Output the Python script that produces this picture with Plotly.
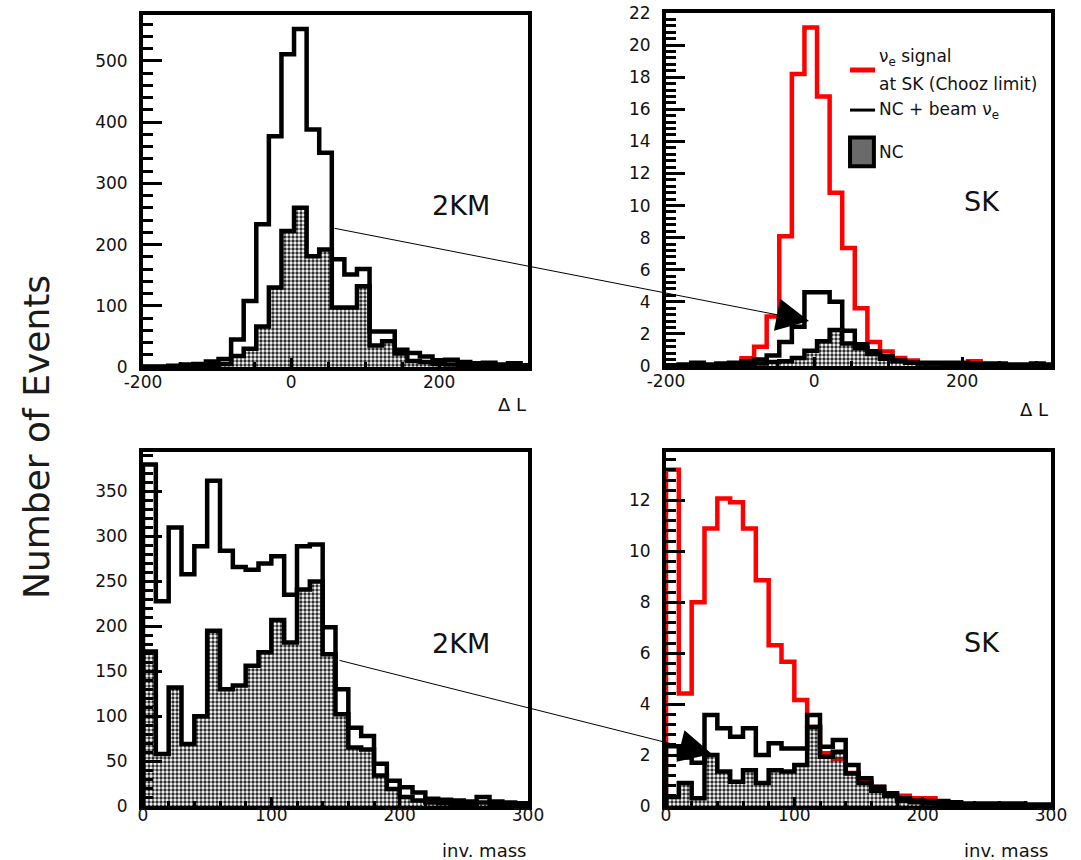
import plotly.graph_objects as go

# ---------------- data ----------------
# Delta-L histograms: 17-unit bins starting at -200
DL_START = -200
DL_WIDTH = 17
dl_2km_total = [1, 1, 2, 4, 5, 9, 13, 45, 108, 233, 377, 511, 552, 388, 350, 176,
                151, 160, 58, 58, 28, 23, 17, 11, 12, 8, 6, 7, 4, 6, 3]
dl_2km_nc = [0, 0, 1, 1, 2, 3, 5, 18, 30, 66, 130, 222, 260, 181, 192, 97,
             97, 132, 35, 42, 22, 10, 8, 5, 4, 3, 2, 3, 1, 2, 1]
dl_sk_signal = [0, 0, 0, 0, 0.05, 0.15, 0.48, 1.2, 3.08, 8.08, 18.2, 21.1, 16.8, 10.8,
                7.35, 3.6, 1.5, 0.9, 0.5, 0.35, 0.15, 0.1, 0.1, 0.05, 0.3, 0.05, 0, 0, 0, 0, 0]
dl_sk_total = [0.05, 0.1, 0.2, 0.1, 0.15, 0.2, 0.3, 0.4, 0.65, 1.5, 2.45, 4.6, 4.6, 4.0,
               2.2, 1.35, 0.92, 0.6, 0.35, 0.2, 0.2, 0.2, 0.2, 0.2, 0.15, 0.15, 0.15, 0.1, 0.1, 0.15, 0.1]
dl_sk_nc = [0, 0, 0.05, 0, 0, 0.05, 0.1, 0.15, 0.25, 0.3, 0.5, 0.95, 1.55, 2.25,
            1.4, 1.1, 0.75, 0.45, 0.3, 0.2, 0.15, 0.15, 0.1, 0.1, 0.1, 0.1, 0.05, 0.05, 0.05, 0.1, 0.05]

# invariant-mass histograms: 10-unit bins from 0 to 300
M_START = 0
M_WIDTH = 10
m_2km_total = [380, 228, 310, 258, 289, 362, 284, 266, 263, 270, 278, 235, 289, 291, 199,
               130, 87, 78, 47, 28, 21, 15, 8, 7, 6, 5, 10, 5, 4, 3]
m_2km_nc = [172, 58, 132, 69, 100, 195, 130, 134, 156, 171, 207, 182, 241, 250, 169,
            102, 65, 63, 34, 19, 10, 6, 4, 3, 2, 2, 4, 2, 1, 1]
m_sk_signal = [13.2, 4.42, 8.0, 10.9, 12.07, 11.93, 10.9, 8.86, 6.31, 5.66, 4.16, 3.1, 2.07,
               1.85, 1.3, 1.0, 0.75, 0.5, 0.4, 0.3, 0.3, 0.15, 0.1, 0.05, 0.05, 0, 0, 0, 0, 0]
m_sk_total = [2.35, 1.9, 1.7, 3.57, 3.05, 2.72, 3.05, 2.0, 2.46, 2.26, 2.26, 3.57, 2.33, 2.59,
              1.61, 1.09, 0.76, 0.5, 0.3, 0.22, 0.2, 0.2, 0.15, 0.1, 0.1, 0.1, 0.1, 0.1, 0.05, 0.05]
m_sk_nc = [0.35, 0.9, 0.3, 2.0, 1.35, 0.95, 1.4, 0.9, 1.4, 1.35, 1.61, 3.1, 1.93, 2.13,
           1.28, 0.9, 0.6, 0.4, 0.2, 0.15, 0.1, 0.05, 0.05, 0.05, 0.05, 0.05, 0.05, 0.05, 0.05, 0.05]

FONT = "DejaVu Sans"
W, H = 1081, 860
LW = 4.5


def contour(start, width, vals):
    """Histogram outline: step path closed down to zero at both ends."""
    n = len(vals)
    edges = [start + width * i for i in range(n + 1)]
    xs = [edges[0]] + edges[:n] + [edges[n]]
    ys = [0] + list(vals) + [0]
    return xs, ys


fig = go.Figure()

NC_PATTERN = dict(shape=".", fgcolor="#2e2e2e", fgopacity=1, bgcolor="rgba(255,255,255,0)",
                  size=4, solidity=0.55, fillmode="overlay")


def add_panel(xa, ya, start, width, total, nc, signal=None):
    if signal is not None:
        x, y = contour(start, width, signal)
        fig.add_trace(go.Scatter(x=x, y=y, mode="lines", line=dict(color="#ff0000", width=LW, shape="hv"),
                                 xaxis=xa, yaxis=ya, showlegend=False, hoverinfo="skip"))
    x, y = contour(start, width, total)
    fig.add_trace(go.Scatter(x=x, y=y, mode="lines", line=dict(color="black", width=LW, shape="hv"),
                             xaxis=xa, yaxis=ya, showlegend=False, hoverinfo="skip"))
    x, y = contour(start, width, nc)
    fig.add_trace(go.Scatter(x=x, y=y, mode="lines", line=dict(color="black", width=LW, shape="hv"),
                             fill="tozeroy", fillcolor="rgba(0,0,0,0)", fillpattern=NC_PATTERN,
                             xaxis=xa, yaxis=ya, showlegend=False, hoverinfo="skip"))


add_panel("x", "y", DL_START, DL_WIDTH, dl_2km_total, dl_2km_nc)
add_panel("x2", "y2", DL_START, DL_WIDTH, dl_sk_total, dl_sk_nc, dl_sk_signal)
add_panel("x3", "y3", M_START, M_WIDTH, m_2km_total, m_2km_nc)
add_panel("x4", "y4", M_START, M_WIDTH, m_sk_total, m_sk_nc, m_sk_signal)


def px_x(p):
    return p / W


def px_y(p):
    return 1 - p / H


tick_font = dict(family=FONT, size=17, color="#111")


def xaxis(dom, rng, minor, vals, anchor, standoff):
    return dict(domain=dom, range=rng, anchor=anchor, automargin=False,
                tickmode="array", tickvals=vals, ticktext=[str(v) for v in vals],
                ticks="inside", ticklen=9, tickwidth=3, tickcolor="black",
                minor=dict(tick0=rng[0], dtick=minor, ticks="inside", ticklen=5, tickwidth=3,
                           tickcolor="black", showgrid=False),
                showgrid=False, zeroline=False, showline=True, linewidth=4, linecolor="black",
                mirror=True, tickfont=tick_font, ticklabelstandoff=standoff)


def yaxis(dom, rng, major, minor, anchor):
    return dict(domain=dom, range=rng, anchor=anchor, automargin=False,
                tickmode="linear", tick0=0, dtick=major,
                ticks="inside", ticklen=19, tickwidth=3, tickcolor="black",
                minor=dict(tick0=0, dtick=minor, ticks="inside", ticklen=10, tickwidth=3,
                           tickcolor="black", showgrid=False),
                showgrid=False, zeroline=False, showline=True, linewidth=4, linecolor="black",
                mirror=True, tickfont=tick_font, ticklabelstandoff=8)


left_dom = [px_x(143), px_x(528)]
right_dom = [px_x(666), px_x(1051)]
top_dom = [px_y(367), px_y(15)]
top_dom_r = [px_y(366), px_y(13)]
bot_dom = [px_y(806), px_y(452)]

fig.update_layout(
    width=W, height=H, margin=dict(l=0, r=0, t=0, b=0, pad=0, autoexpand=False),
    paper_bgcolor="white", plot_bgcolor="white", showlegend=False,
    xaxis=xaxis(left_dom, [-200, 320], 50, [-200, 0, 200], "y", -3),
    yaxis=yaxis(top_dom, [0, 575], 100, 20, "x"),
    xaxis2=xaxis(right_dom, [-200, 320], 50, [-200, 0, 200], "y2", -3),
    yaxis2=yaxis(top_dom_r, [0, 22], 2, 0.4, "x2"),
    xaxis3=xaxis(left_dom, [0, 300], 20, [0, 100, 200, 300], "y3", -9),
    yaxis3=yaxis(bot_dom, [0, 394], 50, 10, "x3"),
    xaxis4=xaxis(right_dom, [0, 300], 20, [0, 100, 200, 300], "y4", -9),
    yaxis4=yaxis(bot_dom, [0, 13.9], 2, 0.4, "x4"),
)

ann = []
label_font = dict(family=FONT, size=27, color="#111")
for xr, yr, txt, xd, yd in [("x", "y", "2KM", 0.826, 0.46), ("x2", "y2", "SK", 0.821, 0.465),
                             ("x3", "y3", "2KM", 0.826, 0.46), ("x4", "y4", "SK", 0.821, 0.463)]:
    ann.append(dict(xref=f"{xr} domain", yref=f"{yr} domain", x=xd, y=yd, text=txt, showarrow=False,
                    font=label_font, xanchor="center", yanchor="middle"))

title_font = dict(family=FONT, size=18, color="#111")
for xp, yp, txt in [(528, 405, "Δ L"), (1050, 410, "Δ L"), (528, 850, "inv. mass"), (1050, 850, "inv. mass")]:
    ann.append(dict(xref="paper", yref="paper", x=px_x(xp), y=px_y(yp), text=txt, showarrow=False,
                    font=title_font, xanchor="right", yanchor="middle"))

ann.append(dict(xref="paper", yref="paper", x=px_x(37), y=px_y(437), text="Number of Events",
                showarrow=False, textangle=-90, font=dict(family=FONT, size=36, color="#1a1a1a"),
                xanchor="center", yanchor="middle"))

# legend inside the SK delta-L panel
leg_font = dict(family=FONT, size=17, color="#111")
for yd, txt in [(0.875, "ν<sub>e</sub> signal"), (0.799, "at SK (Chooz limit)"),
                (0.725, "NC + beam ν<sub>e</sub>"), (0.606, "NC")]:
    ann.append(dict(xref="x2 domain", yref="y2 domain", x=0.548, y=yd, text=txt, showarrow=False,
                    font=leg_font, xanchor="left", yanchor="middle"))

# arrows linking the 2KM and SK distributions
ann.append(dict(xref="paper", yref="paper", x=px_x(809), y=px_y(321), ax=333 - 809, ay=228 - 321,
                axref="pixel", ayref="pixel", showarrow=True, arrowhead=2, arrowsize=6.5, arrowwidth=1,
                arrowcolor="black", text=""))
ann.append(dict(xref="paper", yref="paper", x=px_x(712), y=px_y(754), ax=338 - 712, ay=660 - 754,
                axref="pixel", ayref="pixel", showarrow=True, arrowhead=2, arrowsize=6.5, arrowwidth=1,
                arrowcolor="black", text=""))

shapes = [
    dict(type="line", xref="x2 domain", yref="y2 domain", x0=0.478, x1=0.543, y0=0.8385, y1=0.8385,
         line=dict(color="#ff0000", width=5)),
    dict(type="line", xref="x2 domain", yref="y2 domain", x0=0.478, x1=0.543, y0=0.725, y1=0.725,
         line=dict(color="black", width=3)),
    dict(type="rect", xref="x2 domain", yref="y2 domain", x0=0.478, x1=0.540, y0=0.566, y1=0.647,
         line=dict(color="black", width=4), fillcolor="#6a6a6a"),
]

fig.update_layout(annotations=ann, shapes=shapes)
fig.write_html("out.html")
